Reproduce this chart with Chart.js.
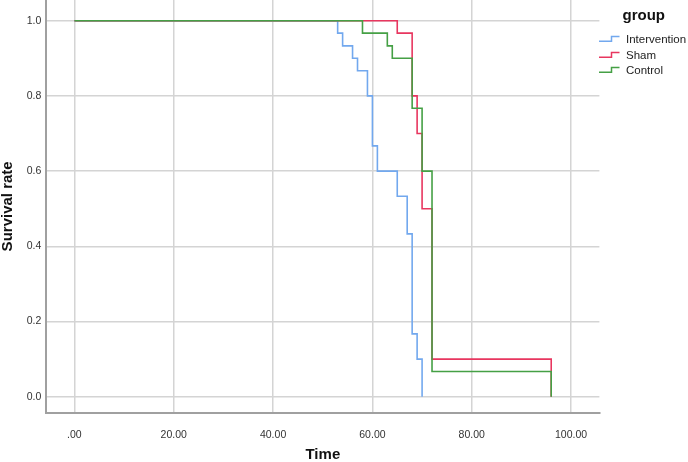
<!DOCTYPE html>
<html>
<head>
<meta charset="utf-8">
<script src="https://cdn.jsdelivr.net/npm/chart.js@4"></script>
<style>
  html, body { margin: 0; padding: 0; background: #fff; }
  #wrap { position: relative; width: 688px; height: 462px; }
  #c { position: absolute; left: 0; top: 0; }
  #legend { position: absolute; left: 0; top: 0; width: 688px; height: 462px; font-family: "Liberation Sans", Arial, sans-serif; color: #222; pointer-events: none; }
  #legend .title { position: absolute; left: 622.5px; top: 5px; font-weight: bold; font-size: 15px; line-height: 20px; color: #111; }
  #legend .item { position: absolute; left: 598px; height: 14px; display: flex; align-items: center; font-size: 11.5px; line-height: 14px; }
  #legend svg { margin-right: 6px; display: block; }
</style>
</head>
<body>
<div id="wrap">
  <canvas id="c" width="688" height="462"></canvas>
  <div id="legend"></div>
</div>
<script>
// ---- data ----
const seriesNames = ["Intervention", "Sham", "Control"];
const seriesColors = ["#72a8ee", "#e8365f", "#45a045"];

const interventionTimes = [0, 53, 54, 56, 57, 59, 60, 61, 65, 67, 68, 69, 70];
const interventionSurv  = [1, 0.967, 0.933, 0.9, 0.867, 0.8, 0.667, 0.6, 0.533, 0.433, 0.167, 0.1, 0];

const shamTimes = [0, 65, 68, 69, 70, 72, 96];
const shamSurv  = [1, 0.967, 0.8, 0.7, 0.5, 0.1, 0];

const controlTimes = [0, 58, 63, 64, 68, 70, 72, 96];
const controlSurv  = [1, 0.967, 0.933, 0.9, 0.767, 0.6, 0.067, 0];

const xTicks = [0, 20, 40, 60, 80, 100];
const yTicks = [0, 0.2, 0.4, 0.6, 0.8, 1.0];

const legendTitle = "group";
const xTitle = "Time";
const yTitle = "Survival rate";

function pts(t, s) { return t.map((v, i) => ({ x: v, y: s[i] })); }

const allTimes = [interventionTimes, shamTimes, controlTimes];
const allSurv = [interventionSurv, shamSurv, controlSurv];
const drawOrder = [2, 1, 0];

const datasets = seriesNames.map((n, i) => ({
  label: n,
  data: pts(allTimes[i], allSurv[i]),
  borderColor: seriesColors[i],
  borderWidth: 1.6,
  stepped: true,
  pointRadius: 0,
  fill: false,
  order: drawOrder[i]
}));

const gridColor = "#d4d4d4";
const axisColor = "#a0a0a0";

new Chart(document.getElementById("c"), {
  type: "line",
  data: { datasets },
  options: {
    responsive: false,
    devicePixelRatio: 1,
    animation: false,
    layout: { padding: { left: 0, top: 0, right: 88.6, bottom: 0 } },
    plugins: { legend: { display: false }, tooltip: { enabled: false } },
    scales: {
      x: {
        type: "linear",
        min: -5.66,
        max: 105.7,
        afterBuildTicks: s => { s.ticks = xTicks.map(v => ({ value: v })); },
        afterFit: s => { s.height = 49.3; s.paddingLeft = 0; s.paddingRight = 0; },
        grid: { color: gridColor, lineWidth: 1.5, drawTicks: false },
        border: { color: axisColor, width: 2 },
        ticks: {
          padding: 16,
          color: "#333",
          font: { family: "Liberation Sans", size: 10.5 },
          maxRotation: 0,
          callback: v => { const s = Number(v).toFixed(2); return s.startsWith("0.") ? s.slice(1) : s; }
        },
        title: {
          display: true, text: xTitle, color: "#111",
          font: { family: "Liberation Sans", size: 15, weight: "bold", lineHeight: 1 },
          padding: { top: 0, bottom: 0 }
        }
      },
      y: {
        type: "linear",
        min: -0.0426,
        max: 1.055,
        afterBuildTicks: s => { s.ticks = yTicks.map(v => ({ value: v })); },
        afterFit: s => { s.width = 46.3; s.paddingTop = 0; s.paddingBottom = 0; },
        grid: { color: gridColor, lineWidth: 1.5, drawTicks: false },
        border: { color: axisColor, width: 2 },
        ticks: {
          padding: 5,
          color: "#333",
          font: { family: "Liberation Sans", size: 10.5 },
          callback: v => Number(v).toFixed(1)
        },
        title: {
          display: true, text: yTitle, color: "#111",
          font: { family: "Liberation Sans", size: 15, weight: "bold", lineHeight: 1 },
          padding: { top: 0, bottom: 0 }
        }
      }
    }
  }
});

// legend
const lg = document.getElementById("legend");
const t = document.createElement("div");
t.className = "title";
t.textContent = legendTitle;
lg.appendChild(t);
seriesNames.forEach((n, i) => {
  const d = document.createElement("div");
  d.className = "item";
  d.style.top = (39.3 + 15.2 * i - 7) + "px";
  d.innerHTML = '<svg width="22" height="14"><path d="M1 9.2 H13.5 V4.6 H21.5" fill="none" stroke="' + seriesColors[i] + '" stroke-width="1.5"/></svg>';
  const sp = document.createElement("span");
  sp.textContent = n;
  d.appendChild(sp);
  lg.appendChild(d);
});
</script>
</body>
</html>
